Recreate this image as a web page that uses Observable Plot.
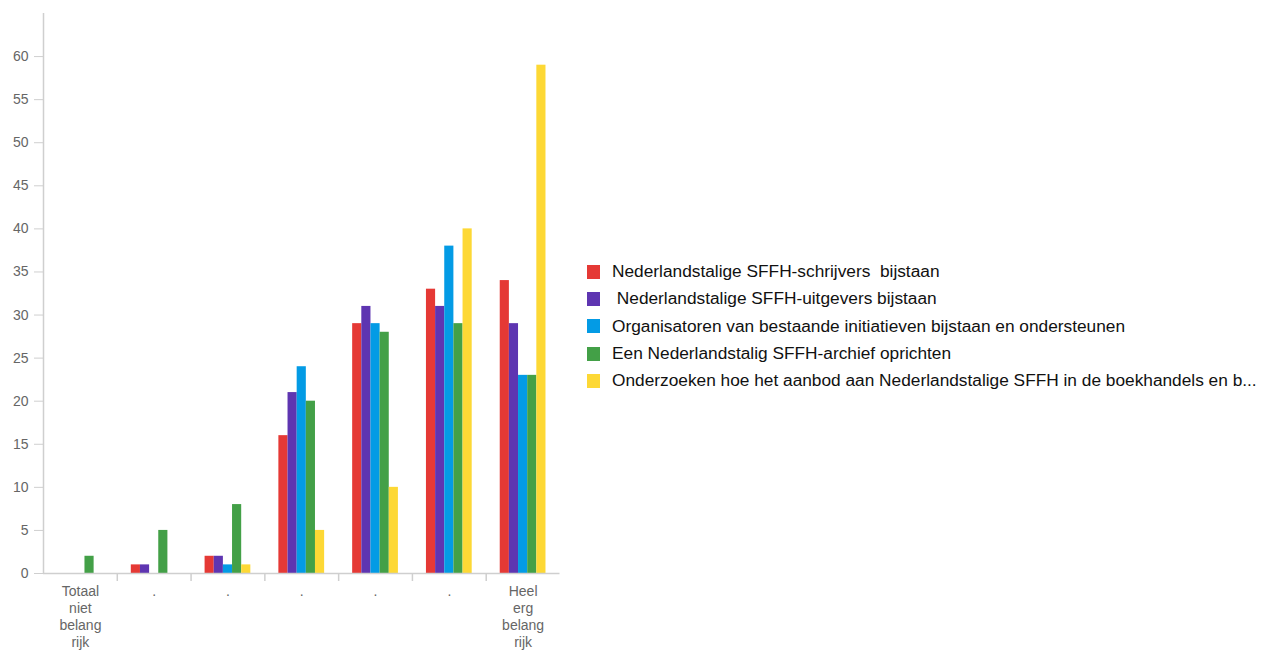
<!DOCTYPE html>
<html>
<head>
<meta charset="utf-8">
<script src="https://cdn.jsdelivr.net/npm/d3@7"></script>
<script src="https://cdn.jsdelivr.net/npm/@observablehq/plot@0.6"></script>
<style>
  html, body { margin: 0; padding: 0; background: #fff; }
  body { width: 1261px; height: 650px; position: relative; overflow: hidden; font-family: "Liberation Sans", Arial, sans-serif; }
  #chart { position: absolute; left: 0; top: 0; }
  #legend { position: absolute; left: 587px; top: 258px; }
  .item { display: flex; align-items: center; height: 27.3px; }
  .sw { width: 13px; height: 14px; flex: none; }
  .lb { margin-left: 12px; font-size: 17.3px; color: #111; white-space: pre; line-height: 1; }
</style>
</head>
<body>
<div id="chart"></div>
<div id="legend"></div>
<script>
// Categories (7-point scale) and their tick labels
const categories = [0, 1, 2, 3, 4, 5, 6];
const tickLabels = ["Totaal\nniet\nbelang\nrijk", ".", ".", ".", ".", ".", "Heel\nerg\nbelang\nrijk"];

// Series
const seriesNames = [
  "Nederlandstalige SFFH-schrijvers  bijstaan",
  " Nederlandstalige SFFH-uitgevers bijstaan",
  "Organisatoren van bestaande initiatieven bijstaan en ondersteunen",
  "Een Nederlandstalig SFFH-archief oprichten",
  "Onderzoeken hoe het aanbod aan Nederlandstalige SFFH in de boekhandels en b..."
];
const seriesColors = ["#E53935", "#5E35B1", "#039BE5", "#43A047", "#FDD835"];

// Values per series, one per category
const schrijvers    = [0, 1, 2, 16, 29, 33, 34];
const uitgevers     = [0, 1, 2, 21, 31, 31, 29];
const organisatoren = [0, 0, 1, 24, 29, 38, 23];
const archief       = [2, 5, 8, 20, 28, 29, 23];
const onderzoeken   = [0, 0, 1, 5, 10, 40, 59];
const seriesValues = [schrijvers, uitgevers, organisatoren, archief, onderzoeken];

// y ticks
const yTicks = [0, 5, 10, 15, 20, 25, 30, 35, 40, 45, 50, 55, 60];

// Build table: bars dodged within each category (in category units)
const groupWidth = 0.62;
const barWidth = groupWidth / seriesNames.length;
const rows = [];
seriesValues.forEach((vals, s) => {
  vals.forEach((v, i) => {
    const x1 = categories[i] - groupWidth / 2 + s * barWidth;
    rows.push({series: seriesNames[s], cat: categories[i], value: v, x1, x2: x1 + barWidth});
  });
});
const boundaries = categories.slice(0, -1).map(c => c + 0.5);

const chart = Plot.plot({
  width: 575,
  height: 650,
  marginLeft: 43,
  marginRight: 15.5,
  marginTop: 13,
  marginBottom: 77,
  style: {fontFamily: "Liberation Sans, Arial, sans-serif", background: "white"},
  x: {domain: [categories[0] - 0.5, categories[categories.length - 1] + 0.5], axis: null},
  y: {domain: [0, 65], axis: null},
  color: {domain: seriesNames, range: seriesColors},
  marks: [
    Plot.rectY(rows, {x1: "x1", x2: "x2", y: "value", fill: "series"}),
    Plot.ruleY([0], {stroke: "#cfcfcf", strokeWidth: 1.5}),
    Plot.ruleX([categories[0] - 0.5], {stroke: "#cfcfcf", strokeWidth: 1.5}),
    Plot.axisY({ticks: yTicks, tickSize: 9, tickPadding: 6, stroke: "#cfcfcf", fill: "#666", fontSize: 14, label: null}),
    Plot.axisX({ticks: boundaries, tickSize: 8, tickFormat: () => "", stroke: "#cfcfcf", strokeWidth: 1.5, label: null}),
    Plot.axisX({ticks: categories, tickSize: 0, tickPadding: 10, tickFormat: i => tickLabels[i], lineHeight: 1.23, fontSize: 14, fill: "#666", label: null})
  ]
});
document.getElementById("chart").appendChild(chart);

// Legend
const legend = document.getElementById("legend");
seriesNames.forEach((name, s) => {
  const item = document.createElement("div");
  item.className = "item";
  const sw = document.createElement("div");
  sw.className = "sw";
  sw.style.background = seriesColors[s];
  const lb = document.createElement("span");
  lb.className = "lb";
  lb.textContent = name;
  item.appendChild(sw);
  item.appendChild(lb);
  legend.appendChild(item);
});
</script>
</body>
</html>
